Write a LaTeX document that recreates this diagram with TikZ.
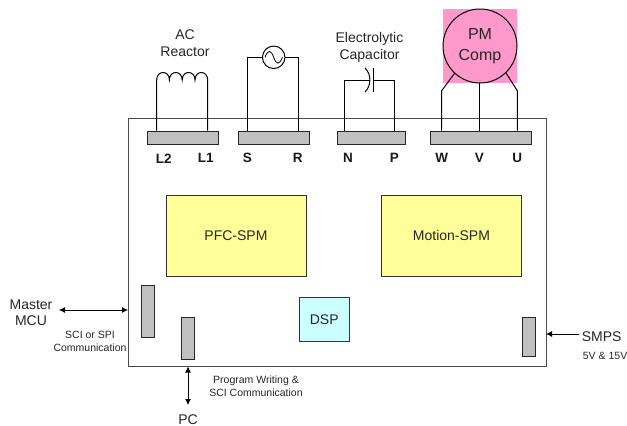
\documentclass[tikz,border=0pt]{standalone}
\usepackage{fontspec}
\setmainfont{Liberation Sans}
\usetikzlibrary{arrows.meta}
\definecolor{pinkfill}{RGB}{255,153,204}
\definecolor{yellowfill}{RGB}{255,255,153}
\definecolor{cyanfill}{RGB}{204,255,255}
\definecolor{greyfill}{RGB}{192,192,192}
\tikzset{
  x=1pt,y=-1pt,
  wire/.style={draw=black,line width=1pt},
  frame/.style={draw=black!70,line width=1pt,fill=white},
  term/.style={draw=black!85,line width=1pt,fill=greyfill,minimum height=13pt,inner sep=0pt,anchor=north west},
  bar/.style={draw=black!85,line width=1pt,fill=greyfill,inner sep=0pt,anchor=north west},
  module/.style={draw=black!80,line width=0.9pt,fill=yellowfill,minimum width=140pt,minimum height=81pt,inner sep=0pt,anchor=north west,font=\fontsize{14}{16}\selectfont,text=black!85},
  pinlabel/.style={font=\bfseries\fontsize{13.5}{15}\selectfont,inner sep=0pt,text=black!90},
  biglabel/.style={font=\fontsize{14}{17}\selectfont,align=center,inner sep=0pt,text=black!85},
  smalllabel/.style={font=\fontsize{10.5}{13}\selectfont,align=center,inner sep=0pt,text=black!85},
  arr/.style={draw=black,line width=0.8pt,{Latex[length=6pt,width=6pt]}-{Latex[length=6pt,width=6pt]}},
  arrone/.style={draw=black,line width=0.8pt,-{Latex[length=6pt,width=6pt]}},
}
\begin{document}
\begin{tikzpicture}
\useasboundingbox (0,0) rectangle (627,426);
\node[frame,minimum width=417.5pt,minimum height=248pt,inner sep=0pt,anchor=north west] (board) at (128,118) {};
% pink motor
\fill[pinkfill] (443,9) rectangle (517,83);
\node[circle,draw=black,line width=1pt,minimum size=74pt,inner sep=0pt,font=\fontsize{16}{21}\selectfont,align=center,text=black!85] (pm) at (480,46) {PM\\Comp};
% terminals
\node[term,minimum width=71pt] (tl) at (146.7,130.5) {};
\node[term,minimum width=71pt] (ts) at (238,130.5) {};
\node[term,minimum width=68pt] (tn) at (336.7,130.5) {};
\node[term,minimum width=101pt] (tw) at (430,130.5) {};
% reactor
\coordinate (ra) at (156.7,130.5); \coordinate (rb) at (207.7,130.5);
\draw[wire] (ra) -- (156.7,80) .. controls (156.7,70) and (169.4,70) .. (169.4,80)
  .. controls (169.4,70) and (182.2,70) .. (182.2,80)
  .. controls (182.2,70) and (195,70) .. (195,80)
  .. controls (195,70) and (207.7,70) .. (207.7,80) -- (rb);
% AC source
\node[circle,draw=black,line width=1pt,minimum size=22.5pt,inner sep=0pt] (src) at (273.7,57.3) {};
\draw[wire] (src.west) -- (247.7,57.3) -- (247.7,130.5);
\draw[wire] (src.east) -- (298.7,57.3) -- (298.7,130.5);
\draw[black,line width=0.8pt] (265,57.3) .. controls (268,49.5) and (271,49.5) .. (273.7,57.3) .. controls (276.4,65.1) and (279.4,65.1) .. (282.4,57.3);
% capacitor
\coordinate (cc) at (369.7,80);
\draw[wire] (344,130.5) -- (344,80) -- (cc);
\draw[wire] (373.7,80) -- (394.3,80) -- (394.3,130.5);
\draw[wire] (373.7,68) -- (373.7,92);
\draw[wire] (365,68) .. controls (371.5,74) and (371.5,86) .. (365,92);
% motor wires
\draw[wire] (441.7,130.5) -- (441.7,90.7) -- (pm.-133);
\draw[wire] (479.3,83) -- (479.3,130.5);
\draw[wire] (517.3,130.5) -- (517.3,90.7) -- (pm.-46);
% pin labels
\node[pinlabel] (l2) at (163.7,158.3) {L2};
\node[pinlabel] (l1) at (205.8,158.3) {L1};
\node[pinlabel] (s) at (247.3,158.3) {S};
\node[pinlabel] (r) at (297.7,158.3) {R};
\node[pinlabel] (n) at (348,158.3) {N};
\node[pinlabel] (p) at (394.3,158.3) {P};
\node[pinlabel] (w) at (441.7,158.3) {W};
\node[pinlabel] (v) at (479.3,158.3) {V};
\node[pinlabel] (u) at (517.3,158.3) {U};
% titles
\node[biglabel] (acr) at (185,43.5) {AC\\Reactor};
\node[biglabel] (ecap) at (369.5,47.5) {Electrolytic\\Capacitor};
% modules
\node[module] (pfc) at (165.5,195) {PFC-SPM};
\node[module] (mot) at (381,195) {Motion-SPM};
\node[draw=black!80,line width=0.9pt,fill=cyanfill,minimum width=49.5pt,minimum height=43.5pt,inner sep=0pt,anchor=north west,font=\fontsize{14}{16}\selectfont,text=black!85] (dsp) at (299,297.2) {DSP};
% connectors
\node[bar,minimum width=13pt,minimum height=52pt] (b1) at (141,284.5) {};
\node[bar,minimum width=12.5pt,minimum height=42pt] (b2) at (181,316.5) {};
\node[bar,minimum width=13pt,minimum height=39pt] (b3) at (522,316.5) {};
% external
\node[biglabel,font=\fontsize{14}{16}\selectfont] (mcu) at (31,313) {Master\\MCU};
\node[font=\fontsize{14}{16}\selectfont,inner sep=0pt,text=black!85,anchor=base] (pc) at (188,424.5) {PC};
\node[biglabel,anchor=west] (smps) at (581.7,336.7) {SMPS};
\node[smalllabel] (sci) at (90,341.5) {SCI or SPI\\Communication};
\node[smalllabel] (prog) at (256,386.5) {Program Writing \&\\SCI Communication};
\node[smalllabel,anchor=west] (v5) at (582.7,355.7) {5V \& 15V};
\coordinate (mcuA) at (59,310); \coordinate (mcuB) at (128,310);
\draw[arr] (mcuA) -- (mcuB);
\coordinate (pcA) at (188,366.5); \coordinate (pcB) at (188,405);
\draw[arr] (pcA) -- (pcB);
\coordinate (smA) at (579,334); \coordinate (smB) at (546,334);
\draw[arrone] (smA) -- (smB);
\end{tikzpicture}
\end{document}
